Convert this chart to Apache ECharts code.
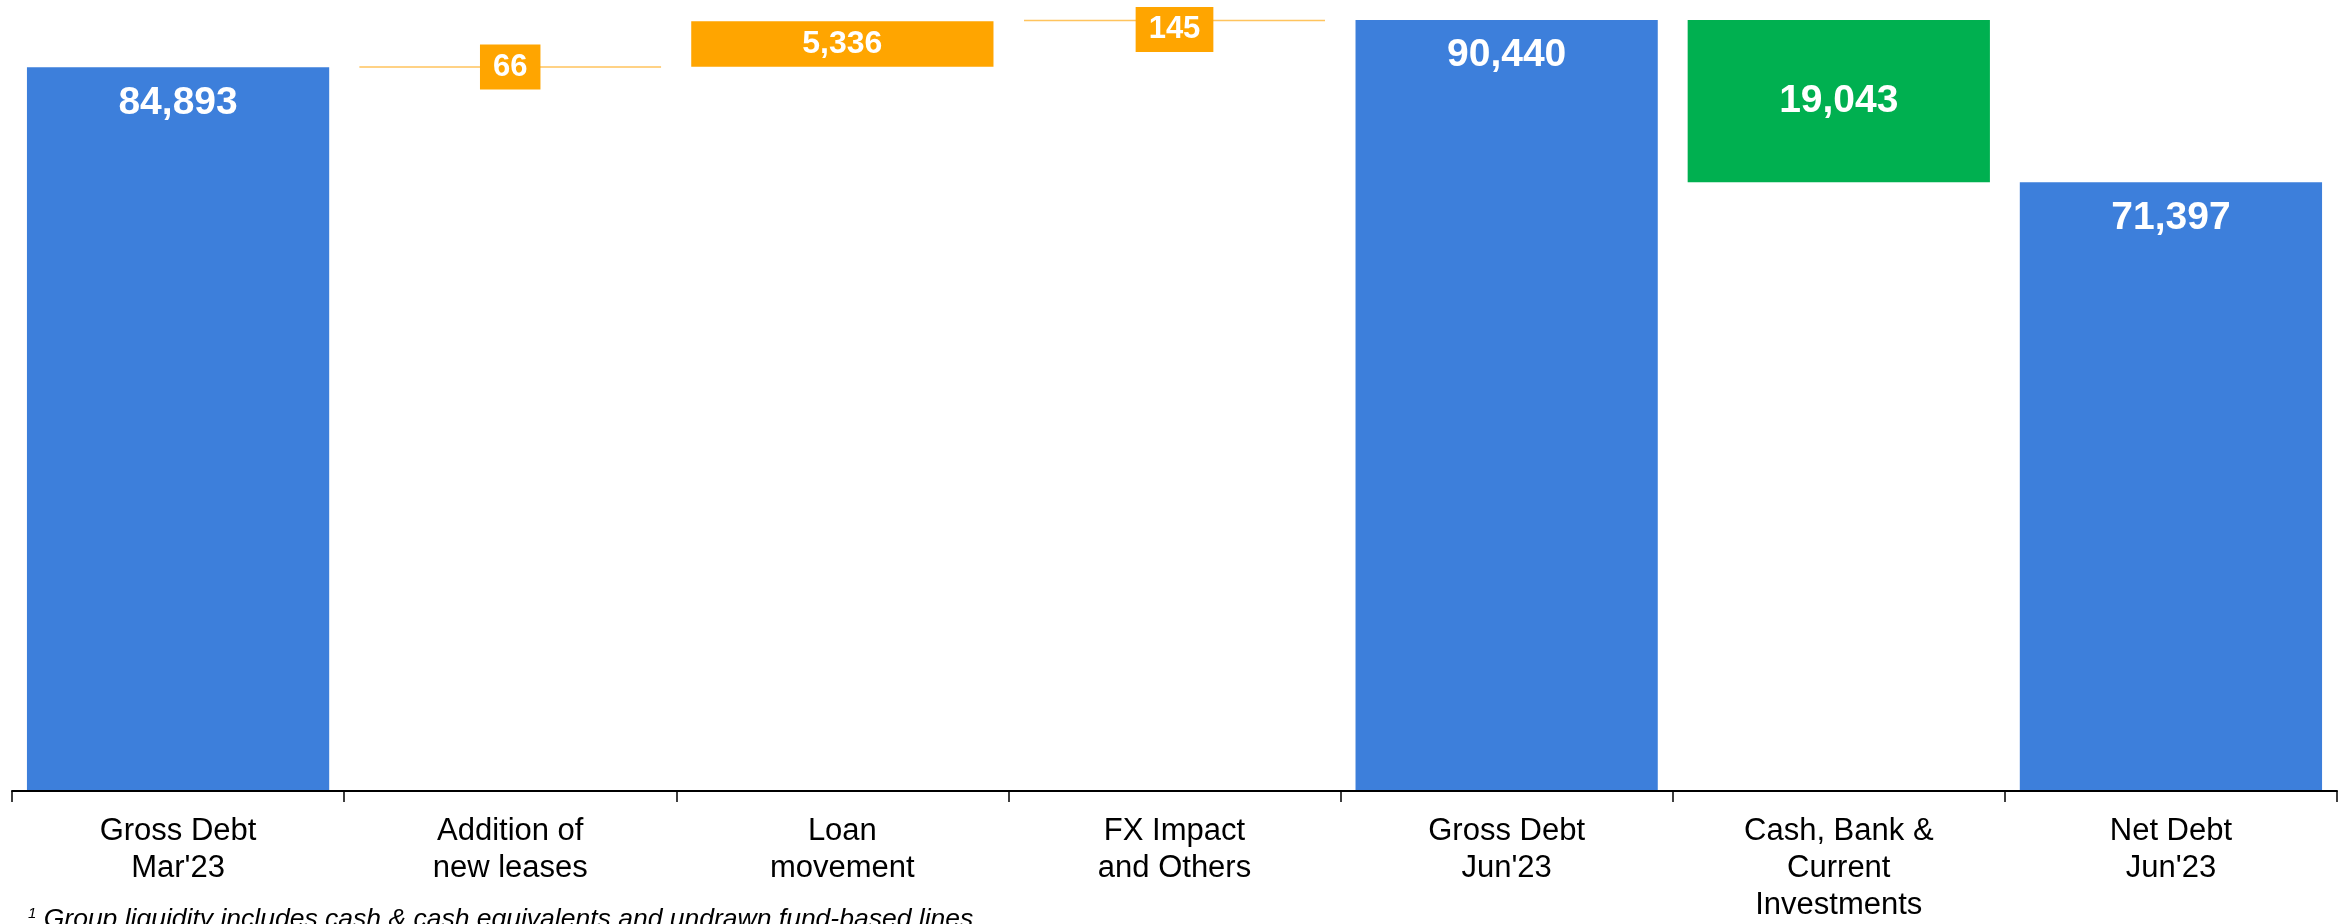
<!DOCTYPE html>
<html>
<head>
<meta charset="utf-8">
<title>Debt bridge</title>
<script src="https://cdn.jsdelivr.net/npm/echarts@6/dist/echarts.min.js"></script>
<style>
  html, body { margin: 0; padding: 0; background: #fff; }
  #chart { width: 2351px; height: 924px; }
</style>
</head>
<body>
<div id="chart"></div>
<script>
// Bridge steps from gross debt to net debt
const categories = [
  'Gross Debt\nMar\'23',
  'Addition of\nnew leases',
  'Loan\nmovement',
  'FX Impact\nand Others',
  'Gross Debt\nJun\'23',
  'Cash, Bank &\nCurrent\nInvestments',
  'Net Debt\nJun\'23'
];
const values = [84893, 66, 5336, 145, 90440, 19043, 71397];
// 'total' bars start at zero, 'inc' steps go up, 'dec' steps go down
const kinds = ['total', 'inc', 'inc', 'inc', 'total', 'dec', 'total'];
const footnote = 'Group liquidity includes cash & cash equivalents and undrawn fund-based lines';

const BLUE = '#3D7FDB';
const ORANGE = '#FFA500';
const ORANGE_LIGHT = '#FFC45E';
const GREEN = '#00B050';

// Running level for the floating steps
const bases = [];
let level = 0;
values.forEach((v, i) => {
  if (kinds[i] === 'total') { bases.push(0); level = v; }
  else if (kinds[i] === 'inc') { bases.push(level); level += v; }
  else { level -= v; bases.push(level); }
});

const fmt = v => v.toLocaleString('en-US');

const barData = values.map((v, i) => {
  const k = kinds[i];
  const item = { value: v };
  if (k === 'total') {
    item.itemStyle = { color: BLUE };
    item.label = { position: 'insideTop', distance: 16, fontSize: 39 };
  } else if (k === 'dec') {
    item.itemStyle = { color: GREEN };
    item.label = { position: 'inside', fontSize: 39 };
  } else if (v > 1000) {
    item.itemStyle = { color: ORANGE };
    item.label = { position: 'inside', fontSize: 32 };
  } else {
    // very small step: drawn as a thin line with a boxed value
    item.itemStyle = { color: ORANGE_LIGHT, borderColor: ORANGE_LIGHT, borderWidth: 1.5 };
    item.label = {
      position: 'inside', fontSize: 31,
      backgroundColor: ORANGE, padding: [7, 13],
      offset: i === 3 ? [0, 9] : [0, 0]
    };
  }
  return item;
});

const chart = echarts.init(document.getElementById('chart'), null, { renderer: 'canvas' });
chart.setOption({
  animation: false,
  backgroundColor: '#fff',
  textStyle: { fontFamily: '"Liberation Sans", Arial, sans-serif' },
  grid: { left: 12, right: 14, top: 20, bottom: 126, containLabel: false },
  xAxis: {
    type: 'category',
    data: categories,
    axisLine: { show: true, lineStyle: { color: '#000', width: 2 } },
    axisTick: { show: true, length: 11, lineStyle: { color: '#000', width: 1.5 } },
    axisLabel: {
      color: '#000', fontSize: 31, lineHeight: 37, margin: 22,
      interval: 0, fontFamily: '"Liberation Sans", Arial, sans-serif'
    },
    z: 10
  },
  yAxis: {
    type: 'value', min: 0, max: 90440, show: false,
    splitLine: { show: false }
  },
  series: [
    {
      type: 'bar', stack: 'bridge', barWidth: '91%',
      itemStyle: { color: 'transparent' },
      emphasis: { disabled: true },
      silent: true,
      data: bases
    },
    {
      type: 'bar', stack: 'bridge', barWidth: '91%',
      emphasis: { disabled: true },
      label: {
        show: true, color: '#fff', fontWeight: 'bold',
        fontFamily: '"Liberation Sans", Arial, sans-serif',
        formatter: p => fmt(p.value)
      },
      data: barData
    }
  ],
  graphic: [{
    type: 'text',
    left: 28, top: 906,
    style: {
      text: '{s|1} ' + footnote,
      font: 'italic 26.5px "Liberation Sans", Arial, sans-serif',
      fill: '#000',
      rich: {
        s: { fontSize: 15, fontStyle: 'italic', verticalAlign: 'top', padding: [0, 0, 12, 0], fill: '#000' }
      }
    }
  }]
});
</script>
</body>
</html>
